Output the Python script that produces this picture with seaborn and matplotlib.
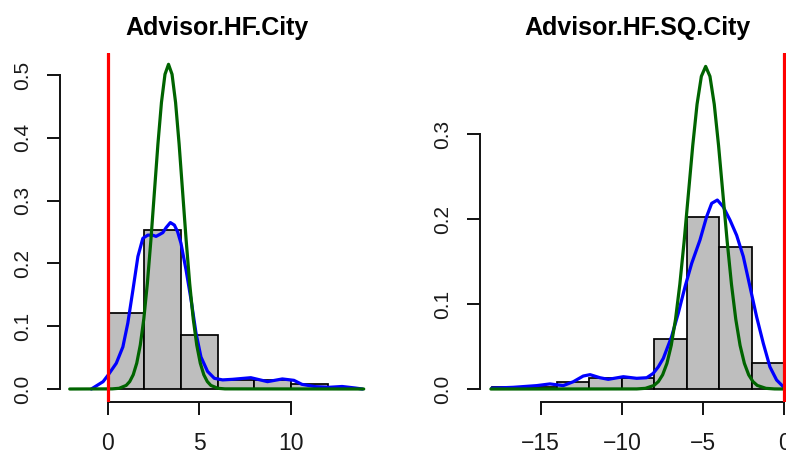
import numpy as np
import pandas as pd
import matplotlib
matplotlib.use("Agg")
import matplotlib.pyplot as plt
import seaborn as sns

# ---------------- data ----------------
titles = ["Advisor.HF.City", "Advisor.HF.SQ.City"]

# left panel histogram (density, bin width 2)
left_edges = [0, 2, 4, 6, 8, 10, 12]
left_heights = [0.1205, 0.2535, 0.0865, 0.0140, 0.0138, 0.0080]

# left panel kernel density (blue)
left_kde_x = [-0.89, -0.25, 0.02, 0.47, 0.83, 1.10, 1.38, 1.65, 1.92, 2.19, 2.45, 2.64,
              2.83, 3.01, 3.19, 3.42, 3.64, 3.82, 4.0, 4.28, 4.55, 4.82, 5.09, 5.45,
              5.82, 6.27, 6.81, 7.81, 8.72, 9.53, 10.16, 10.6, 11.34, 12.07, 12.79,
              13.5, 13.9]
left_kde_y = [0.0, 0.0117, 0.022, 0.041, 0.067, 0.105, 0.158, 0.211, 0.240, 0.245, 0.245,
              0.243, 0.246, 0.249, 0.257, 0.265, 0.261, 0.250, 0.232, 0.189, 0.142, 0.089,
              0.051, 0.028, 0.017, 0.0145, 0.0154, 0.018, 0.0117, 0.016, 0.0138, 0.0074,
              0.0037, 0.0027, 0.004, 0.0016, 0.0]

# left panel normal curve (green)
left_norm_x = [-2.07, 0.24, 0.625, 1.01, 1.2025, 1.395, 1.5875, 1.78, 1.9725, 2.165,
               2.3575, 2.55, 2.7425, 2.935, 3.1275, 3.32, 3.5125, 3.705, 3.8975, 4.09,
               4.2825, 4.475, 4.6675, 4.86, 5.0525, 5.245, 5.4375, 5.63, 6.015, 6.40, 13.97]
left_norm_y = [0.0, 0.0002, 0.0011, 0.0057, 0.0118, 0.0227, 0.0412, 0.070, 0.1118, 0.1679,
               0.2367, 0.3136, 0.3902, 0.4563, 0.5011, 0.517, 0.5011, 0.4563, 0.3902,
               0.3136, 0.2367, 0.1679, 0.1118, 0.070, 0.0412, 0.0227, 0.0118, 0.0057,
               0.0011, 0.0002, 0.0]

# right panel histogram (density, bin width 2)
right_edges = [-18, -16, -14, -12, -10, -8, -6, -4, -2, 0]
right_heights = [0.0020, 0.0022, 0.0079, 0.0133, 0.0133, 0.0589, 0.2030, 0.1676, 0.0302]

# right panel kernel density (blue)
right_kde_x = [-18.02, -16.69, -15.25, -14.43, -13.61, -12.99, -12.38, -11.96, -11.35,
               -10.84, -9.91, -9.09, -8.47, -8.07, -7.76, -7.45, -6.94, -6.53, -6.11,
               -5.70, -5.19, -4.78, -4.47, -4.12, -3.76, -3.34, -2.93, -2.52, -2.11,
               -1.70, -1.29, -0.88, -0.47, -0.06, 0.1]
right_kde_y = [0.001, 0.002, 0.004, 0.006, 0.004, 0.0086, 0.0153, 0.0169, 0.0133, 0.0114,
               0.0145, 0.0126, 0.0133, 0.0184, 0.026, 0.036, 0.0616, 0.089, 0.1205, 0.148,
               0.1755, 0.203, 0.2187, 0.2226, 0.2147, 0.199, 0.181, 0.156, 0.1205, 0.085,
               0.0538, 0.026, 0.0106, 0.0027, 0.0]

# right panel normal curve (green)
right_norm_x = [-18.07, -9.08, -8.55, -8.02, -7.755, -7.49, -7.225, -6.96, -6.695, -6.43,
                -6.165, -5.90, -5.635, -5.37, -5.105, -4.84, -4.575, -4.31, -4.045, -3.78,
                -3.515, -3.25, -2.985, -2.72, -2.455, -2.19, -1.925, -1.66, -1.13, -0.60, 0.07]
right_norm_y = [0.0, 0.0001, 0.0008, 0.0042, 0.0087, 0.0167, 0.0302, 0.0514, 0.0822, 0.1234,
                0.174, 0.2305, 0.2868, 0.3354, 0.3683, 0.380, 0.3683, 0.3354, 0.2868, 0.2305,
                0.174, 0.1234, 0.0822, 0.0514, 0.0302, 0.0167, 0.0087, 0.0042, 0.0008,
                0.0001, 0.0]

left_xticks = [0, 5, 10]
left_yticks = [0.0, 0.1, 0.2, 0.3, 0.4, 0.5]
right_xticks = [-15, -10, -5, 0]
right_yticks = [0.0, 0.1, 0.2, 0.3]

# ---------------- style ----------------
sns.set_theme(style="white")
plt.rcParams["font.family"] = ["Liberation Sans", "DejaVu Sans"]
plt.rcParams["axes.unicode_minus"] = True

W, H = 786, 450
fig = plt.figure(figsize=(W / 100, H / 100), dpi=100)

def px_axes(left, right, top, bottom):
    return fig.add_axes([left / W, 1 - bottom / H, (right - left) / W, (bottom - top) / H])

panels = [
    dict(ax=px_axes(60, 374, 53, 402), edges=left_edges, heights=left_heights,
         kx=left_kde_x, ky=left_kde_y, nx=left_norm_x, ny=left_norm_y,
         xlim=(-2.60, 14.53), ylim=(-0.0207, 0.535), xt=left_xticks, yt=left_yticks,
         title=titles[0]),
    dict(ax=px_axes(480.3, 794.3, 53, 402), edges=right_edges, heights=right_heights,
         kx=right_kde_x, ky=right_kde_y, nx=right_norm_x, ny=right_norm_y,
         xlim=(-18.72, 0.62), ylim=(-0.0153, 0.3958), xt=right_xticks, yt=right_yticks,
         title=titles[1]),
]

for p in panels:
    ax = p["ax"]
    edges = p["edges"]
    mids = [(a + b) / 2 for a, b in zip(edges[:-1], edges[1:])]
    sns.histplot(x=mids, weights=p["heights"], bins=edges, ax=ax, stat="count",
                 color="#BEBEBE", edgecolor="black", linewidth=1.25, alpha=1, zorder=1)
    sns.lineplot(x=p["kx"], y=p["ky"], ax=ax, color="blue", linewidth=2.3,
                 estimator=None, sort=False, zorder=3)
    sns.lineplot(x=p["nx"], y=p["ny"], ax=ax, color="#006400", linewidth=2.3,
                 estimator=None, sort=False, zorder=4)
    ax.axvline(0, color="red", linewidth=2.3, zorder=5)

    ax.set_xlim(*p["xlim"])
    ax.set_ylim(*p["ylim"])
    ax.set_xticks(p["xt"])
    ax.set_yticks(p["yt"])
    ax.set_xticklabels([f"{t:g}".replace("-", "\u2212") for t in p["xt"]])
    ax.set_yticklabels([f"{t:.1f}" for t in p["yt"]])
    ax.set_xlabel("")
    ax.set_ylabel("")
    ax.grid(False)
    for s in ["top", "right"]:
        ax.spines[s].set_visible(False)
    ax.spines["left"].set_bounds(p["yt"][0], p["yt"][-1])
    ax.spines["bottom"].set_bounds(p["xt"][0], p["xt"][-1])
    for s in ["left", "bottom"]:
        ax.spines[s].set_color("#111111")
        ax.spines[s].set_linewidth(1.4)
    ax.tick_params(axis="both", which="major", direction="out", length=9.4, width=1.4,
                   color="#111111", labelcolor="#1a1a1a", bottom=True, left=True)
    ax.tick_params(axis="x", pad=12.5, labelsize=16.5)
    ax.tick_params(axis="y", pad=11, labelsize=15, labelrotation=90)
    for lab in ax.get_yticklabels():
        lab.set_va("center")
    ax.set_title(p["title"], fontsize=18, fontweight="bold", pad=13, color="black")
    ax.patch.set_alpha(0)

fig.savefig("out.png", dpi=100)
